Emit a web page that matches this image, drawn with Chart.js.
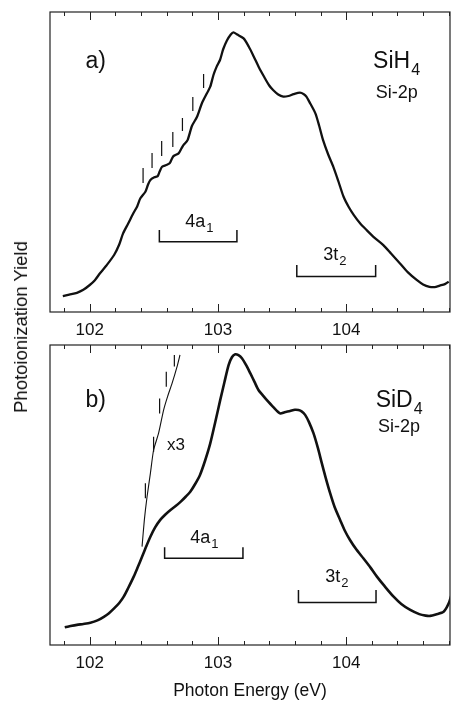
<!DOCTYPE html>
<html><head><meta charset="utf-8">
<script src="https://cdn.jsdelivr.net/npm/chart.js@4.4.1/dist/chart.umd.min.js"></script>
<style>
html,body{margin:0;padding:0;background:#fff;}
body{width:451px;height:702px;position:relative;overflow:hidden;font-family:"Liberation Sans",Arial,sans-serif;}
.wrap{position:absolute;left:0;}
#ytitle{position:absolute;left:21px;top:327px;transform:translate(-50%,-50%) rotate(-90deg);font-size:18.5px;white-space:nowrap;color:#111;}
</style></head><body>
<div class="wrap" style="top:0;width:451px;height:345px"><canvas id="c1" width="451" height="345"></canvas></div>
<div class="wrap" style="top:315px;width:451px;height:387px"><canvas id="c2" width="451" height="387"></canvas></div>
<div id="ytitle">Photoionization Yield</div>
<script>
// ---------- DATA ----------
const majorTicks = [102, 103, 104];
const minorTicks = [101.8,102.2,102.4,102.6,102.8,103.2,103.4,103.6,103.8,104.2,104.4,104.6,104.8];

// Panel a) SiH4 Si-2p
const sih4Energy = [101.79,101.84,101.90,101.95,102.00,102.04,102.08,102.13,102.19,102.23,102.26,102.30,102.34,102.37,102.395,102.434,102.455,102.473,102.504,102.53,102.545,102.564,102.597,102.623,102.64,102.654,102.693,102.715,102.732,102.763,102.797,102.836,102.875,102.914,102.94,102.965,102.99,103.016,103.04,103.07,103.10,103.12,103.15,103.20,103.24,103.28,103.32,103.36,103.40,103.43,103.47,103.51,103.55,103.59,103.64,103.67,103.69,103.72,103.76,103.79,103.82,103.86,103.90,103.94,103.98,104.02,104.06,104.11,104.16,104.22,104.29,104.35,104.42,104.48,104.55,104.60,104.65,104.69,104.73,104.77,104.80];
const sih4Yield  = [5.3,5.8,6.4,7.4,9.0,10.6,12.9,15.5,19.0,22.5,26.2,29.5,32.9,35.2,37.9,40.1,42.5,44.0,44.9,45.3,46.8,48.4,49.0,49.6,51.0,52.0,52.9,54.5,55.7,57.3,62.0,65.0,69.6,72.9,75.1,79.0,81.8,84.0,87.5,90.5,92.5,93.2,92.5,91.2,88.5,85.1,81.5,78.4,75.5,74.0,72.5,71.8,72.0,72.6,73.1,72.6,71.8,69.5,66.2,62.0,57.3,52.5,48.4,43.5,38.4,35.0,32.3,29.5,27.3,24.8,22.3,19.5,16.2,13.3,10.7,9.2,8.4,8.3,8.8,9.3,10.1];
const sih4MarkEnergy = [102.416,102.486,102.561,102.648,102.723,102.804,102.888];
const sih4MarkLow    = [43.0,48.0,52.0,55.0,60.3,67.0,74.7];
const sih4MarkHigh   = [48.0,53.0,57.0,60.0,64.7,71.7,79.3];
const sih4BandStart  = [102.543,103.615];
const sih4BandEnd    = [103.148,104.230];

// Panel b) SiD4 Si-2p
const sid4Energy = [101.805,101.85,101.90,101.95,102.005,102.06,102.11,102.15,102.19,102.23,102.265,102.30,102.343,102.375,102.408,102.44,102.473,102.51,102.55,102.59,102.63,102.67,102.71,102.75,102.784,102.82,102.86,102.90,102.94,102.98,103.018,103.05,103.083,103.11,103.135,103.16,103.187,103.22,103.252,103.285,103.316,103.35,103.38,103.43,103.485,103.52,103.563,103.60,103.628,103.655,103.68,103.71,103.745,103.78,103.81,103.84,103.875,103.91,103.953,103.99,104.03,104.08,104.134,104.19,104.24,104.30,104.37,104.43,104.50,104.57,104.62,104.655,104.70,104.76,104.80,104.83];
const sid4Yield  = [5.9,6.3,6.7,7.0,7.4,8.2,9.4,10.6,12.2,14.0,16.1,19.0,22.8,26.0,29.4,32.8,36.1,39.2,41.7,43.5,45.0,46.3,47.8,49.5,51.1,53.5,56.7,61.5,67.2,74.5,81.7,87.5,93.3,96.0,96.9,96.6,95.6,93.3,90.6,87.7,85.0,83.2,81.7,79.4,77.2,77.6,78.0,78.4,78.3,77.8,76.7,74.3,70.6,65.6,60.6,55.8,50.6,46.0,41.7,38.1,35.0,31.8,28.9,25.8,22.8,19.6,16.1,13.7,11.7,10.3,9.8,9.7,10.2,11.1,13.9,18.0];
const sid4x3Energy = [102.408,102.426,102.447,102.473,102.498,102.537,102.576,102.607,102.642,102.681,102.704];
const sid4x3Yield  = [32.8,41.7,49.4,57.2,65.0,70.6,78.3,82.8,87.2,92.8,96.7];
const sid4MarkEnergy = [102.434,102.498,102.545,102.597,102.660];
const sid4MarkLow    = [48.9,64.4,77.2,86.1,92.8];
const sid4MarkHigh   = [53.9,69.4,82.2,91.1,96.7];
const sid4BandStart  = [102.584,103.628];
const sid4BandEnd    = [103.195,104.233];

// ---------- HELPERS ----------
const FONT = '"Liberation Sans", Arial, Helvetica, sans-serif';
const INK = '#111';
const zipXY = (xs, ys) => xs.map((x, i) => ({x, y: ys[i]}));
function segments(xs, lo, hi) {
  const out = [];
  xs.forEach((x, i) => { out.push({x, y: lo[i]}, {x, y: hi[i]}, {x, y: null}); });
  return out;
}
function brackets(starts, ends, tops, bots) {
  const out = [];
  starts.forEach((s, i) => {
    out.push({x: s, y: tops[i]}, {x: s, y: bots[i]}, {x: ends[i], y: bots[i]}, {x: ends[i], y: tops[i]}, {x: ends[i], y: null});
  });
  return out;
}

const decorPlugin = {
  id: 'panelDecor',
  afterDatasetsDraw(chart, args, opts) {
    const {ctx, chartArea: a, scales: {x, y}} = chart;
    ctx.save();
    // frame
    ctx.strokeStyle = '#222';
    ctx.lineWidth = 1.2;
    ctx.strokeRect(a.left, a.top, a.right - a.left, a.bottom - a.top);
    // inward ticks, top and bottom
    const drawTick = (v, len) => {
      const px = Math.round(x.getPixelForValue(v)) + 0.5;
      ctx.beginPath();
      ctx.moveTo(px, a.bottom); ctx.lineTo(px, a.bottom - len);
      ctx.moveTo(px, a.top); ctx.lineTo(px, a.top + len);
      ctx.stroke();
    };
    ctx.lineWidth = 1;
    majorTicks.forEach(v => drawTick(v, 8));
    minorTicks.forEach(v => drawTick(v, 4));
    // texts
    ctx.fillStyle = INK;
    ctx.textBaseline = 'alphabetic';
    ctx.textAlign = 'left';
    (opts.labels || []).forEach(l => {
      const px = x.getPixelForValue(l.x), py = y.getPixelForValue(l.y);
      ctx.font = `${l.size}px ${FONT}`;
      ctx.fillText(l.text, px, py);
      if (l.sub) {
        const w = ctx.measureText(l.text).width;
        ctx.font = `${l.subSize}px ${FONT}`;
        ctx.fillText(l.sub, px + w + 1, py + l.subDrop);
      }
    });
    ctx.restore();
  }
};

function makeChart(id, datasets, labels, xAxisHeight, padTop, showTitle) {
  return new Chart(document.getElementById(id), {
    type: 'line',
    data: {datasets},
    options: {
      responsive: false,
      animation: false,
      parsing: true,
      layout: {padding: {top: padTop, left: 50, right: 1, bottom: 0}},
      elements: {point: {radius: 0}, line: {borderColor: INK, fill: false}},
      scales: {
        x: {
          type: 'linear', min: 101.69, max: 104.81,
          afterBuildTicks: s => { s.ticks = majorTicks.map(v => ({value: v})); },
          afterFit: s => { s.height = xAxisHeight; },
          grid: {display: false, drawTicks: false},
          border: {display: false},
          ticks: {padding: 8, color: INK, autoSkip: false, maxRotation: 0,
                  font: {family: FONT, size: 17}, callback: v => String(v)},
          title: {display: showTitle, text: 'Photon Energy (eV)', color: INK,
                  font: {family: FONT, size: 17.5}, padding: {top: 0, bottom: 0}}
        },
        y: {type: 'linear', min: 0, max: 100, display: false}
      },
      plugins: {
        legend: {display: false},
        tooltip: {enabled: false},
        panelDecor: {labels}
      }
    },
    plugins: [decorPlugin]
  });
}

// Panel a)
makeChart('c1', [
  {data: zipXY(sih4Energy, sih4Yield), borderWidth: 2.3, tension: 0.25},
  {data: segments(sih4MarkEnergy, sih4MarkLow, sih4MarkHigh), borderWidth: 1.2, spanGaps: false},
  {data: brackets(sih4BandStart, sih4BandEnd, [27.3, 15.7], [23.4, 11.8]), borderWidth: 1.5, spanGaps: false}
], [
  {text: 'a)', x: 101.967, y: 81.3, size: 23},
  {text: 'SiH', sub: '4', x: 104.21, y: 81.3, size: 23, subSize: 16, subDrop: 7},
  {text: 'Si-2p', x: 104.23, y: 71.3, size: 18},
  {text: '4a', sub: '1', x: 102.745, y: 28.4, size: 18, subSize: 13, subDrop: 5},
  {text: '3t', sub: '2', x: 103.822, y: 17.3, size: 18, subSize: 13, subDrop: 5}
], 33, 12, false);

// Panel b)
makeChart('c2', [
  {data: zipXY(sid4Energy, sid4Yield), borderWidth: 2.6, tension: 0.25},
  {data: zipXY(sid4x3Energy, sid4x3Yield), borderWidth: 1.1, tension: 0.2},
  {data: segments(sid4MarkEnergy, sid4MarkLow, sid4MarkHigh), borderWidth: 1.2, spanGaps: false},
  {data: brackets(sid4BandStart, sid4BandEnd, [32.6, 18.3], [28.9, 14.2]), borderWidth: 1.5, spanGaps: false}
], [
  {text: 'b)', x: 101.967, y: 79.4, size: 23},
  {text: 'SiD', sub: '4', x: 104.23, y: 79.4, size: 23, subSize: 16, subDrop: 7},
  {text: 'Si-2p', x: 104.248, y: 71.1, size: 18},
  {text: 'x3', x: 102.603, y: 65.0, size: 17},
  {text: '4a', sub: '1', x: 102.784, y: 33.9, size: 18, subSize: 13, subDrop: 5},
  {text: '3t', sub: '2', x: 103.836, y: 21.1, size: 18, subSize: 13, subDrop: 5}
], 57, 30, true);
</script>
</body></html>
